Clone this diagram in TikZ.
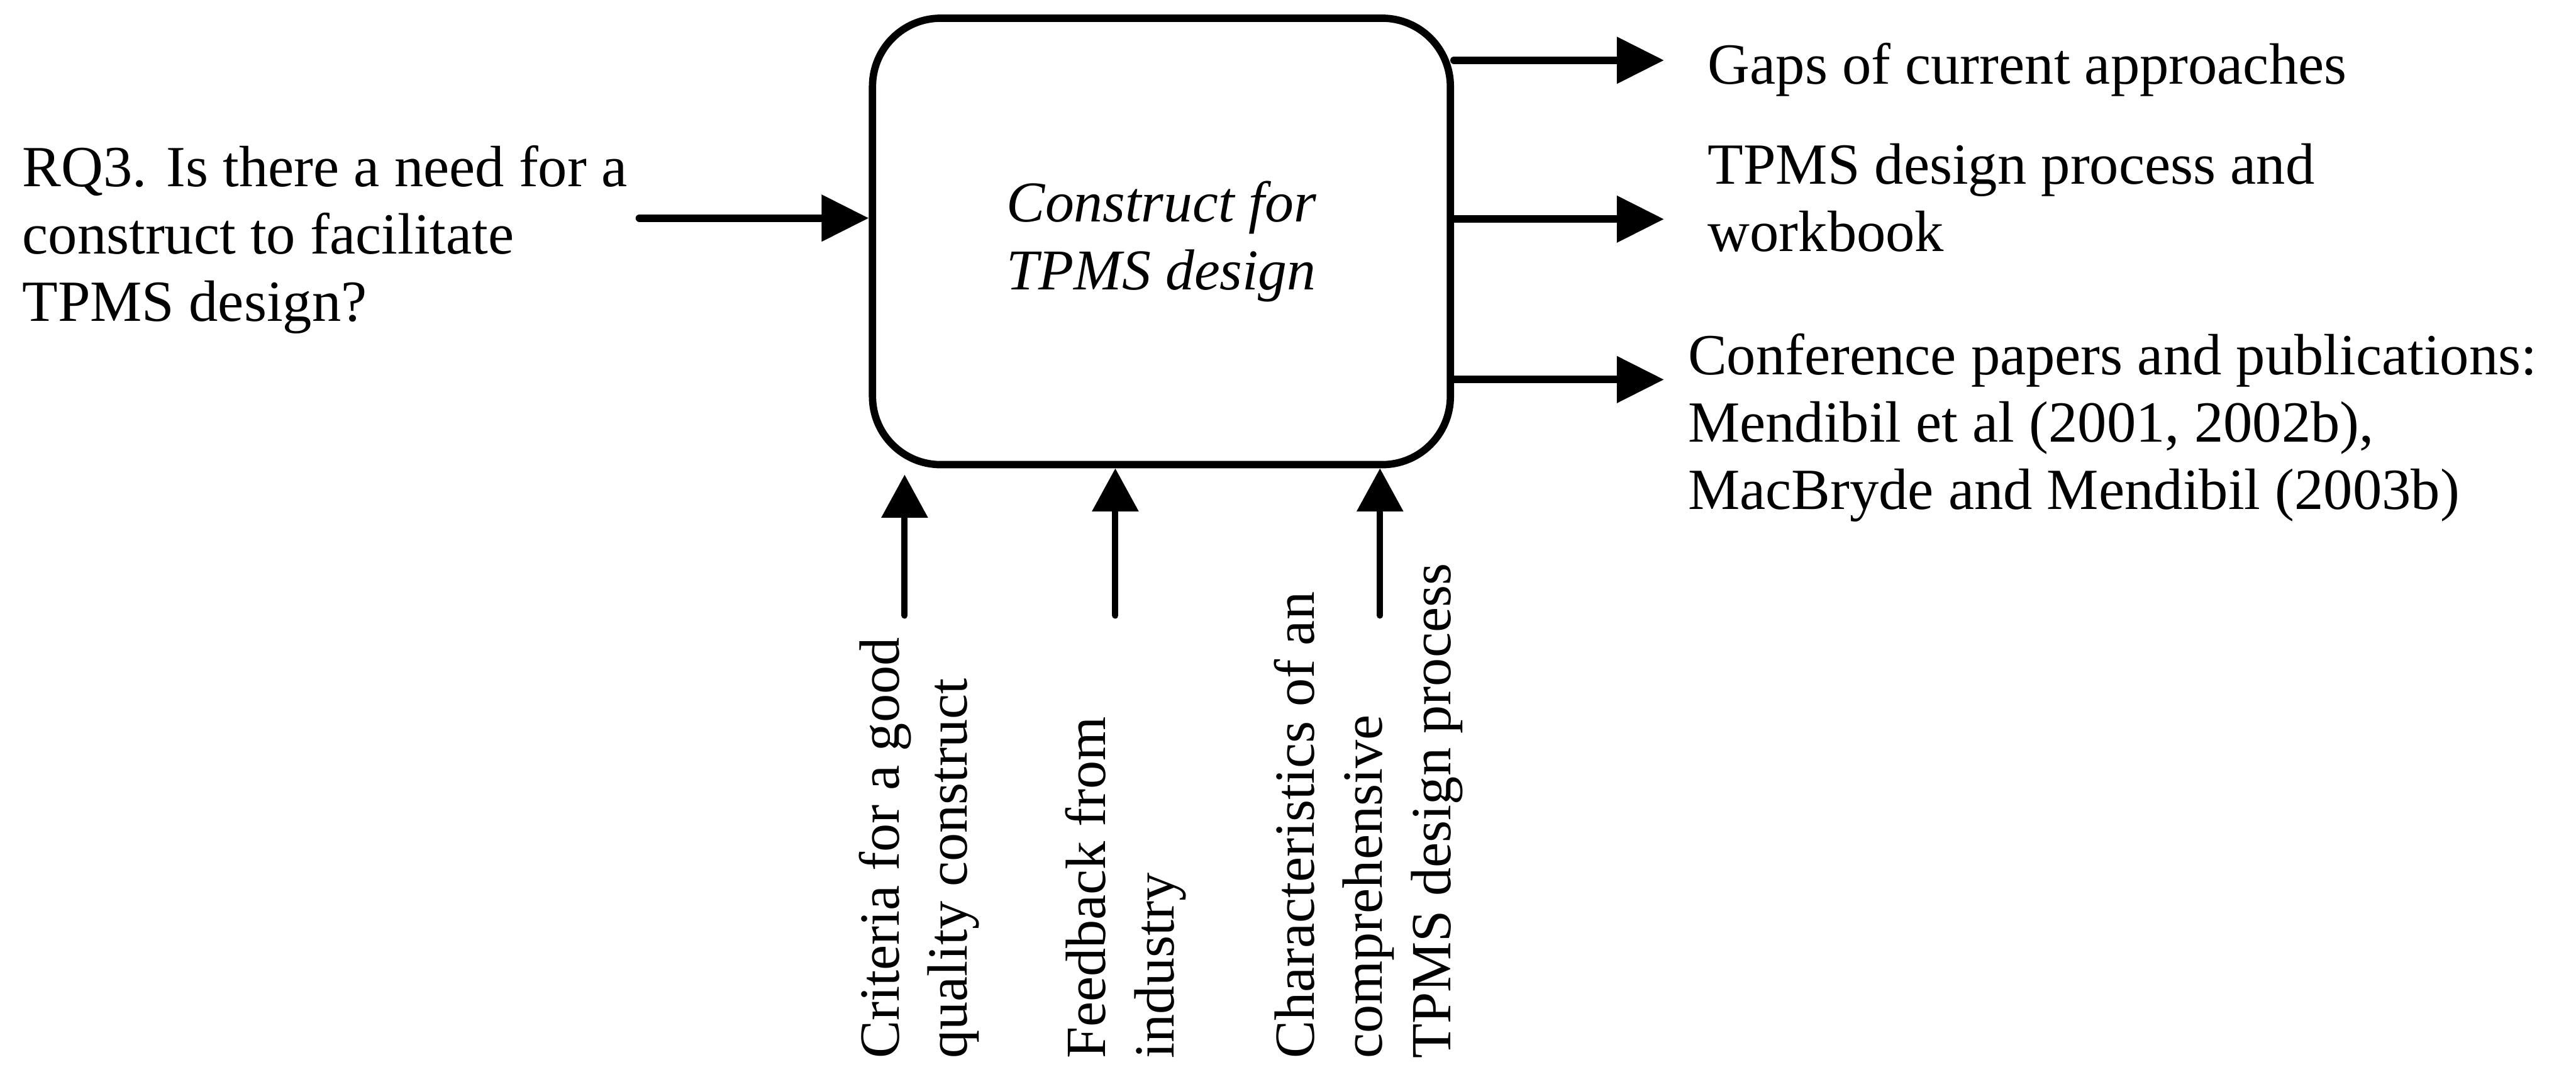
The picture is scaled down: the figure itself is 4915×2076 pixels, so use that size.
\documentclass[tikz,border=0pt]{standalone}
\usepackage{fontspec}
\setmainfont{Liberation Serif}
\usetikzlibrary{arrows.meta}
\begin{document}
\begin{tikzpicture}[x=0.01cm,y=-0.01cm,
  lbl/.style={inner sep=0pt, anchor=base west,
    font=\fontsize{31.6pt}{36.4pt}\selectfont},
  vlbl/.style={inner sep=0pt, anchor=base west, rotate=90,
    font=\fontsize{30.8pt}{37pt}\selectfont},
  flow/.style={line width=0.145cm, line cap=round,
    -{Triangle[length=0.9cm,width=0.86cm]}},
  ctrl/.style={line width=0.12cm, line cap=round,
    -{Triangle[length=0.82cm,width=0.86cm]}},
  proc/.style={draw, line width=0.14cm, rounded corners=1.3cm,
    minimum width=11.02cm, minimum height=8.51cm, inner sep=0pt,
    align=center, font=\fontsize{31.3pt}{37pt}\selectfont\itshape}]
\fill[white] (0,0) rectangle (4915,2076);
\useasboundingbox (0,0) rectangle (4915,2076);

% central activity box
\node[proc] (box) at (2216,460.5) {Construct for\\TPMS design};

% input
\node[lbl] (rq) at (42,356) {\begin{tabular}[t]{@{}l@{}}RQ3. Is there a need for a\\construct to facilitate\\TPMS design?\end{tabular}};
\coordinate (inS) at (1220,416);
\draw[flow] (inS) -- (inS -| box.west);

% outputs
\coordinate (o1) at (3175,115);
\coordinate (o2) at (3175,418);
\coordinate (o3) at (3175,724);
\draw[flow] (box.east |- o1) -- (o1);
\draw[flow] (box.east |- o2) -- (o2);
\draw[flow] (box.east |- o3) -- (o3);
\node[lbl] (gaps) at (3258,160) {Gaps of current approaches};
\node[lbl] (proc) at (3258,351) {\begin{tabular}[t]{@{}l@{}}TPMS design process and\\workbook\end{tabular}};
\node[lbl] (pubs) at (3220,715) {\begin{tabular}[t]{@{}l@{}}Conference papers and publications:\\Mendibil et al (2001, 2002b),\\MacBryde and Mendibil (2003b)\end{tabular}};

% controls from below
\coordinate (c1) at (1726,1174);
\coordinate (c2) at (2128,1174);
\coordinate (c3) at (2633,1174);
\draw[ctrl, shorten >=0.12cm] (c1) -- (c1 |- box.south);
\draw[ctrl] (c2) -- (c2 |- box.south);
\draw[ctrl] (c3) -- (c3 |- box.south);
\node[vlbl] (crit) at (1715,2020) {\begin{tabular}[t]{@{}l@{}}Criteria for a good\\quality construct\end{tabular}};
\node[vlbl] (feed) at (2109,2020) {\begin{tabular}[t]{@{}l@{}}Feedback from\\industry\end{tabular}};
\node[vlbl] (char) at (2507,2020) {\begin{tabular}[t]{@{}l@{}}Characteristics of an\\comprehensive\\TPMS design process\end{tabular}};
\end{tikzpicture}
\end{document}
